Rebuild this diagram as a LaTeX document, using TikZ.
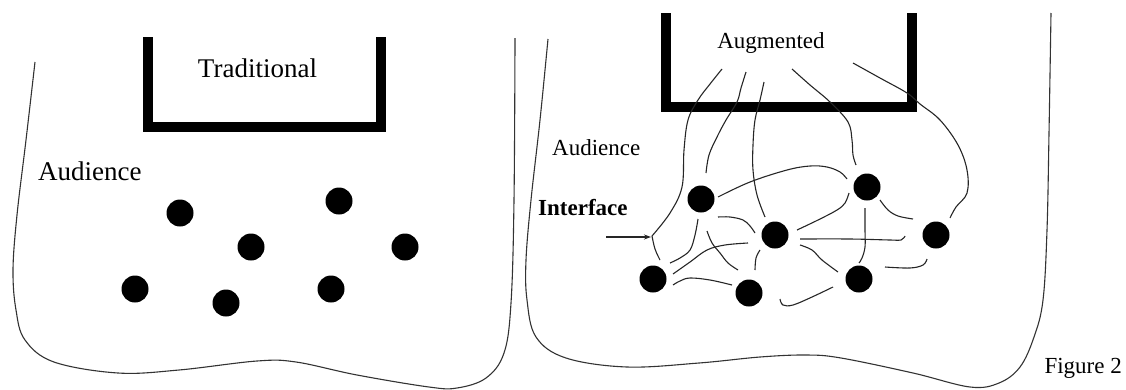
\documentclass[tikz,border=0pt]{standalone}
\usepackage{fontspec}
\setmainfont{Liberation Serif}
\usetikzlibrary{arrows.meta}
\begin{document}
\begin{tikzpicture}[x=1pt,y=-1pt,
  outline/.style={line width=1.1pt,black!80},
  squiggle/.style={line width=1.1pt,black!85},
  stagebar/.style={line width=10pt,line join=miter},
  dot/.style={circle,fill=black,inner sep=0pt,minimum size=27pt},
  bigtext/.style={font=\fontsize{27}{30}\selectfont,inner sep=0pt},
  smalltext/.style={font=\fontsize{23}{26}\selectfont,inner sep=0pt}]
\useasboundingbox (0,0) rectangle (1126,389);

% ---------- left panel: traditional stage ----------
\draw[outline] plot[smooth,tension=0.6] coordinates {(35,62) (26,140) (17,215) (13,270) (16,310) (25,340) (54,362) (118,373) (179,370) (257,361) (296,362) (357,375) (429,387) (457,388) (486,378) (504,353) (511,303) (514,200) (515,38)};
\draw[stagebar] (148,37) -- (148,127) -- (381,127) -- (381,37);
\node[bigtext,anchor=base] (trad) at (257.5,77) {Traditional};
\node[bigtext,anchor=base west] (aud1) at (38,180) {Audience};

\node[dot] (l1) at (180,213) {};
\node[dot] (l2) at (339,201) {};
\node[dot] (l3) at (251,247) {};
\node[dot] (l4) at (405,247) {};
\node[dot] (l5) at (135,289) {};
\node[dot] (l6) at (226,303) {};
\node[dot] (l7) at (331,289) {};

% ---------- right panel: augmented stage ----------
\draw[outline] plot[smooth,tension=0.6] coordinates {(548,39) (540,120) (531,200) (526,260) (527,300) (536,337) (566,358) (627,367) (699,363) (760,357) (806,355) (841,358) (913,373) (970,387) (999,383) (1020,367) (1034,337) (1043,300) (1047,230) (1049,133) (1051,13)};
\draw[stagebar] (666,13) -- (666,107) -- (912,107) -- (912,13);
\node[smalltext,anchor=base] (aug) at (771,48) {Augmented};
\node[smalltext,anchor=base west] (aud2) at (552,155) {Audience};
\node[smalltext,anchor=base west,font=\fontsize{23}{26}\selectfont\bfseries] (iface) at (538,215) {Interface};

\node[dot] (A) at (701,199) {};
\node[dot] (B) at (867,187) {};
\node[dot] (C) at (775,235) {};
\node[dot] (D) at (936,235) {};
\node[dot] (E) at (653,279) {};
\node[dot] (F) at (749,293) {};
\node[dot] (G) at (859,279) {};

% strands from the stage down to the audience
\draw[squiggle] plot[smooth,tension=0.6] coordinates {(722,69) (710,84) (698,100) (688,120) (684,150) (682,187) (670,213) (652,236)};
\draw[squiggle] plot[smooth,tension=0.6] coordinates {(652,236) (655,249) (660,260)};
\draw[squiggle] plot[smooth,tension=0.6] coordinates {(746,72) (741,88) (737,102) (726,120) (717,137) (709,155) (706,173)};
\draw[squiggle] plot[smooth,tension=0.6] coordinates {(764,82) (760,100) (755,120) (753,145) (753,170) (757,195) (765,217)};
\draw[squiggle] plot[smooth,tension=0.6] coordinates {(792,69) (810,85) (830,102) (848,122) (852,140) (853,155) (856,165)};
\draw[squiggle] plot[smooth,tension=0.6] coordinates {(853,63) (880,78) (907,93) (920,104) (940,120) (958,145) (967,170) (967,193) (956,207) (950,218)};

% strands between audience members
\draw[squiggle] plot[smooth,tension=0.6] coordinates {(718,197) (750,182) (787,170) (810,166) (827,167) (840,172) (847,179)};
\draw[squiggle] plot[smooth,tension=0.6] coordinates {(849,193) (845,203) (837,210) (818,220) (797,230)};
\draw[squiggle] plot[smooth,tension=0.6] coordinates {(865,208) (865,230) (865,247) (862,258) (859,263)};
\draw[squiggle] plot[smooth,tension=0.6] coordinates {(880,200) (888,210) (898,216) (913,219)};
\draw[squiggle] plot[smooth,tension=0.6] coordinates {(800,239) (850,239) (890,240) (901,240) (905,236)};
\draw[squiggle] plot[smooth,tension=0.6] coordinates {(927,259) (923,265) (910,268) (885,267)};
\draw[squiggle] plot[smooth,tension=0.6] coordinates {(780,299) (783,305) (793,305) (812,297) (833,287)};
\draw[squiggle] plot[smooth,tension=0.6] coordinates {(800,245) (812,250) (822,260) (838,272)};
\draw[squiggle] plot[smooth,tension=0.6] coordinates {(673,285) (680,281) (690,278) (710,280) (732,285)};
\draw[squiggle] plot[smooth,tension=0.6] coordinates {(673,274) (690,262) (707,250) (725,245) (748,243)};
\draw[squiggle] plot[smooth,tension=0.6] coordinates {(698,219) (695,235) (690,250) (680,258) (670,263)};
\draw[squiggle] plot[smooth,tension=0.6] coordinates {(707,231) (712,243) (720,253) (728,263) (738,270)};
\draw[squiggle] plot[smooth,tension=0.6] coordinates {(718,217) (730,217) (743,220) (750,226) (755,233)};
\draw[squiggle] plot[smooth,tension=0.6] coordinates {(760,250) (756,258) (755,270)};

% pointer to the interface
\coordinate (ptail) at (606,237);
\coordinate (phead) at (651,237);
\draw[squiggle,-{Stealth[length=7pt,width=5pt]}] (ptail) -- (phead);

\node[smalltext,anchor=base east] (fig) at (1122,373) {Figure 2};
\end{tikzpicture}
\end{document}
